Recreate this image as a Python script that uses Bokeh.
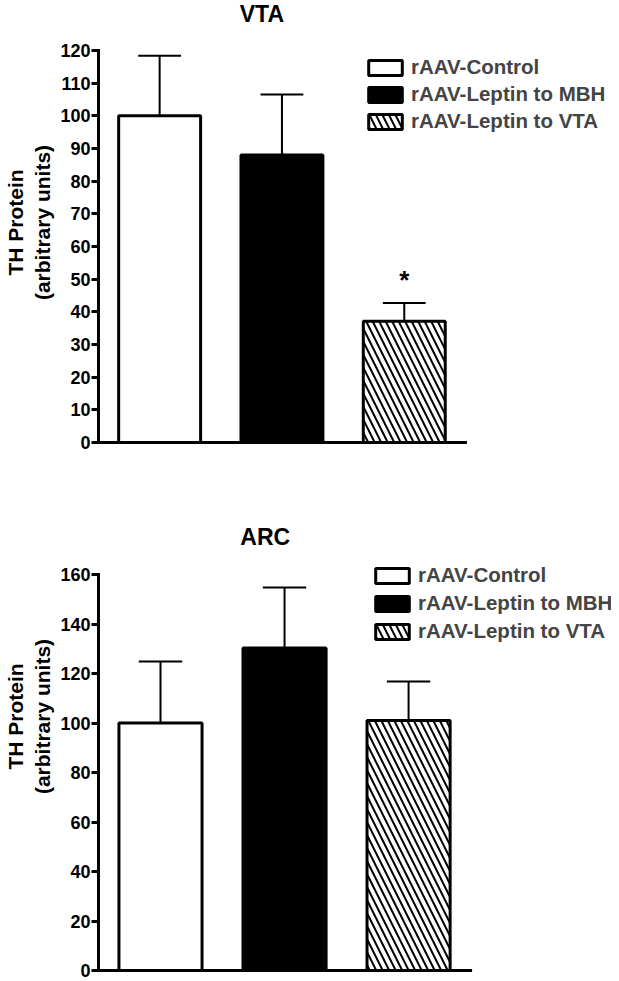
from bokeh.plotting import figure
from bokeh.models import ColumnDataSource, Legend, LegendItem, FixedTicker
from bokeh.layouts import column
from bokeh.embed import file_html
from bokeh.resources import INLINE
from bokeh.core.properties import value

groups = ["rAAV-Control", "rAAV-Leptin to MBH", "rAAV-Leptin to VTA"]
fills = ["white", "black", "white"]
hatches = [None, None, "\\"]

vta_mean = [100.0, 88.0, 37.1]
vta_err = [18.4, 18.5, 5.6]
vta_ticks = [0, 10, 20, 30, 40, 50, 60, 70, 80, 90, 100, 110, 120]
arc_mean = [100.0, 130.3, 101.0]
arc_err = [24.8, 24.4, 15.8]
arc_ticks = [0, 20, 40, 60, 80, 100, 120, 140, 160]

FONT = "Liberation Sans"
W = 611


def make_panel(title, means, errs, ticks, fig_top, height, border_bottom,
               axis_px, zero_px, top_px, ppu, title_px, legend_loc, spacing, star=None):
    ymax = ticks[-1]
    scale = (zero_px - top_px) / ymax          # px per data unit (y)
    frame_left = axis_px - 2
    frame_bottom = fig_top + height - border_bottom
    y0 = (zero_px - frame_bottom) / scale
    y1 = (zero_px - fig_top) / scale
    x0 = -0.5 - (axis_px - frame_left) / ppu
    x1 = x0 + (W - frame_left) / ppu
    p = figure(width=W, height=height, output_backend="svg", toolbar_location=None,
               title=None, x_range=(x0, x1), y_range=(y0, y1),
               min_border_left=frame_left, min_border_right=0,
               min_border_top=0, min_border_bottom=border_bottom)
    p.outline_line_color = None
    p.xgrid.visible = False
    p.ygrid.visible = False
    p.xaxis.visible = False
    ax = p.yaxis[0]
    ax.ticker = FixedTicker(ticks=ticks)
    ax.axis_line_color = None
    ax.major_tick_line_width = 3
    ax.major_tick_out = 5
    ax.major_tick_in = 3
    ax.minor_tick_line_color = None
    ax.major_label_text_font = FONT
    ax.major_label_text_font_size = "18px"
    ax.major_label_text_font_style = "bold"
    ax.major_label_text_color = "black"
    ax.major_label_standoff = 1
    ax.axis_label = "TH Protein\n(arbitrary units)"
    ax.axis_label_text_font = FONT
    ax.axis_label_text_font_size = "21px"
    ax.axis_label_text_font_style = "bold"
    ax.axis_label_text_color = "black"
    ax.axis_label_standoff = 3

    n = len(groups)
    xs = list(range(n))
    tops = [m + e for m, e in zip(means, errs)]
    # upper error bars
    p.segment(x0=xs, y0=means, x1=xs, y1=tops, line_color="black", line_width=2)
    p.segment(x0=[x - 0.175 for x in xs], y0=tops, x1=[x + 0.175 for x in xs], y1=tops,
              line_color="black", line_width=2)
    items = []
    for i in range(n):
        src = ColumnDataSource(dict(x=[xs[i]], top=[means[i]]))
        kw = dict(x="x", top="top", bottom=0, width=0.67, source=src,
                  fill_color=fills[i], line_color="black", line_width=3)
        if hatches[i]:
            kw.update(hatch_pattern=hatches[i], hatch_color="black", hatch_weight=2,
                      hatch_scale=13)
        r = p.vbar(**kw)
        items.append(LegendItem(label=groups[i], renderers=[r]))
    # axis lines: x baseline under the bars, y axis from 0 to the top tick
    p.segment(x0=[-0.5], y0=[0], x1=[n - 0.5], y1=[0], line_color="black", line_width=3,
              line_cap="square")
    p.segment(x0=[-0.5], y0=[0], x1=[-0.5], y1=[ymax], line_color="black", line_width=3,
              line_cap="square")
    if star is not None:
        p.text(x=[star], y=[tops[star] + 7], text=["*"], text_font=value(FONT),
               text_font_size="26px", text_font_style="bold", text_align="center",
               text_baseline="middle", text_color="black")
    # panel title
    tx = -0.5 + (title_px[0] - axis_px) / ppu
    ty = (zero_px - title_px[1]) / scale
    p.text(x=[tx], y=[ty], text=[title], text_font=value(FONT), text_font_size="23px",
           text_font_style="bold", text_align="center", text_baseline="middle",
           text_color="black")
    leg = Legend(items=items, location=legend_loc, orientation="vertical",
                 glyph_width=42, glyph_height=19, label_standoff=5, spacing=spacing,
                 padding=0, margin=0, border_line_color=None, background_fill_alpha=0,
                 label_text_font=FONT, label_text_font_size="20.5px",
                 label_text_font_style="bold", label_height=20)
    p.add_layout(leg, "center")
    return p


top = make_panel("VTA", vta_mean, vta_err, vta_ticks, 0, 460, 16,
                 93, 442, 50, 123.5, (258, 13), (268, 311), 3, star=2)
bot = make_panel("ARC", arc_mean, arc_err, arc_ticks, 460, 521, 9,
                 94, 970, 574, 125.0, (262, 536), (275, 329), 4)

layout = column(top, bot, spacing=0)
open("out.html", "w").write(file_html(layout, INLINE))
